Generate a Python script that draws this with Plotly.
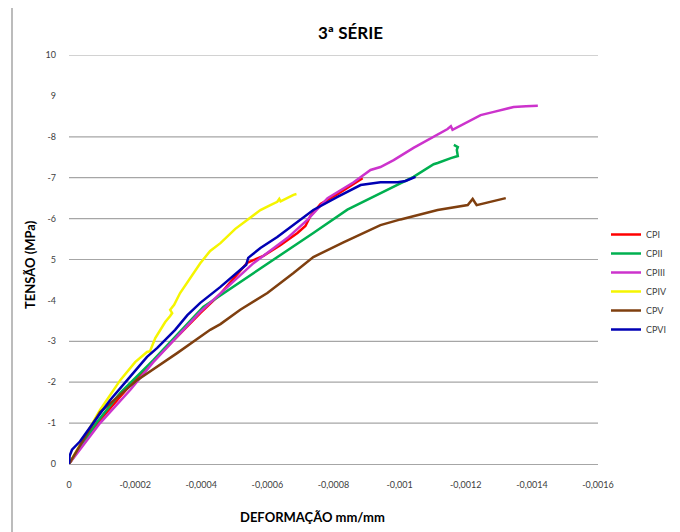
import plotly.graph_objects as go

# ---- data (strain in mm/mm, stress in MPa; compression negative) ----
series_names = ["CPI", "CPII", "CPIII", "CPIV", "CPV", "CPVI"]

cpi_strain = [0, -0.48e-4, -0.94e-4, -1.85e-4, -2.76e-4, -3.97e-4, -4.58e-4, -5.39e-4, -5.88e-4, -6.39e-4,
              -6.91e-4, -7.15e-4, -7.30e-4, -7.61e-4, -8.12e-4, -8.61e-4, -8.88e-4]
cpi_stress = [0, -0.59, -1.08, -1.93, -2.69, -3.69, -4.16, -4.92, -5.09, -5.35,
              -5.65, -5.82, -6.06, -6.36, -6.60, -6.85, -6.99]

cpii_strain = [0, -0.85e-4, -1.55e-4, -2.55e-4, -4.06e-4, -5.73e-4, -7.0e-4, -7.39e-4, -8.42e-4, -9.42e-4,
               -10.42e-4, -11.03e-4, -11.15e-4, -11.55e-4, -11.76e-4, -11.73e-4, -11.76e-4, -11.64e-4]
cpii_stress = [0, -1.03, -1.74, -2.54, -3.84, -4.74, -5.43, -5.65, -6.22, -6.62,
               -7.02, -7.33, -7.36, -7.48, -7.53, -7.68, -7.75, -7.80]

cpiii_strain = [0, -0.94e-4, -1.85e-4, -2.55e-4, -3.97e-4, -4.58e-4, -5.58e-4, -6.61e-4, -7.21e-4, -7.82e-4,
                -8.61e-4, -9.12e-4, -9.42e-4, -9.82e-4, -10.42e-4, -11.45e-4, -11.55e-4, -11.60e-4,
                -12.45e-4, -12.85e-4, -13.45e-4, -13.82e-4, -14.18e-4]
cpiii_stress = [0, -1.0, -1.81, -2.49, -3.72, -4.18, -4.91, -5.53, -5.97, -6.50,
                -6.89, -7.19, -7.26, -7.43, -7.73, -8.19, -8.26, -8.17,
                -8.53, -8.61, -8.73, -8.75, -8.76]

cpiv_strain = [0, -0.33e-4, -0.94e-4, -1.55e-4, -2.0e-4, -2.36e-4, -2.45e-4, -2.61e-4, -2.91e-4, -3.06e-4,
               -3.12e-4, -3.06e-4, -3.18e-4, -3.36e-4, -3.67e-4, -3.97e-4, -4.27e-4, -4.58e-4, -5.03e-4,
               -5.39e-4, -5.79e-4, -6.09e-4, -6.30e-4, -6.36e-4, -6.40e-4, -6.79e-4, -6.88e-4]
cpiv_stress = [0, -0.46, -1.32, -2.05, -2.49, -2.74, -2.76, -3.08, -3.47, -3.62,
               -3.69, -3.77, -3.89, -4.18, -4.55, -4.91, -5.21, -5.40, -5.75,
               -5.97, -6.21, -6.33, -6.41, -6.48, -6.42, -6.58, -6.60]

cpv_strain = [0, -0.94e-4, -2.06e-4, -3.27e-4, -4.27e-4, -4.58e-4, -5.18e-4, -6.0e-4, -6.79e-4, -7.39e-4,
              -8.30e-4, -9.42e-4, -10.03e-4, -10.42e-4, -11.15e-4, -12.06e-4, -12.21e-4,
              -12.33e-4, -13.21e-4]
cpv_stress = [0, -1.27, -2.05, -2.71, -3.28, -3.42, -3.77, -4.18, -4.67, -5.06,
              -5.42, -5.84, -5.98, -6.06, -6.21, -6.33, -6.48,
              -6.33, -6.50]

cpvi_strain = [0, -0.02e-4, -0.09e-4, -0.33e-4, -0.73e-4, -1.24e-4, -1.76e-4, -2.36e-4, -2.67e-4, -3.21e-4,
               -3.58e-4, -3.97e-4, -4.58e-4, -5.27e-4, -5.36e-4, -5.42e-4, -5.55e-4, -5.79e-4, -6.30e-4,
               -6.70e-4, -7.39e-4, -8.12e-4, -8.82e-4, -9.42e-4, -9.94e-4, -10.18e-4, -10.48e-4]
cpvi_stress = [0, -0.2, -0.35, -0.55, -1.0, -1.56, -2.05, -2.62, -2.84, -3.28,
               -3.64, -3.94, -4.33, -4.79, -4.87, -5.04, -5.13, -5.28, -5.55,
               -5.79, -6.21, -6.53, -6.82, -6.89, -6.89, -6.92, -7.02]

x_tickvals = [0, -0.0002, -0.0004, -0.0006, -0.0008, -0.001, -0.0012, -0.0014, -0.0016]
x_ticktext = ["0", "-0,0002", "-0,0004", "-0,0006", "-0,0008", "-0,001", "-0,0012", "-0,0014", "-0,0016"]
y_tickvals = [0, -1, -2, -3, -4, -5, -6, -7, -8, -9, -10]
y_ticktext = ["0", "-1", "-2", "-3", "-4", "5", "-6", "-7", "-8", "9", "10"]
grid_values = [-1, -2, -3, -5, -6, -7, -8, -10]

colors = ["#FF0000", "#00B050", "#CC33CC", "#F5F500", "#7F3F0F", "#0000B4"]
xs = [cpi_strain, cpii_strain, cpiii_strain, cpiv_strain, cpv_strain, cpvi_strain]
ys = [cpi_stress, cpii_stress, cpiii_stress, cpiv_stress, cpv_stress, cpvi_stress]

# page body has an 8px margin, so the figure is laid out 8px smaller and offset
OFF = 8
W, H = 680 - OFF, 532 - OFF
L, T = 69 - OFF, 55 - OFF
pw, ph = 529, 409
R, B = W - L - pw, H - T - ph

def px(x):  # page pixel -> paper x
    return (x - OFF - L) / pw

def py(y):  # page pixel -> paper y
    return (T + ph - (y - OFF)) / ph

fig = go.Figure()
for name, x, y, c in zip(series_names, xs, ys, colors):
    fig.add_trace(go.Scatter(x=x, y=y, mode="lines", name=name,
                             line=dict(color=c, width=2.5)))

FONT = "Lato, Open Sans, sans-serif"

shapes = []
for g in grid_values:
    shapes.append(dict(type="line", xref="paper", yref="y", x0=0, x1=1, y0=g, y1=g,
                       line=dict(color="#A6A6A6", width=1.2), layer="below"))
shapes.append(dict(type="line", xref="paper", yref="paper", x0=px(12), x1=px(12), y0=py(OFF), y1=py(540),
                   line=dict(color="#A6A6A6", width=1.5)))

fig.update_layout(
    width=W, height=H,
    margin=dict(l=L, r=R, t=T, b=B, autoexpand=False),
    paper_bgcolor="white", plot_bgcolor="white",
    font=dict(family=FONT, color="#404040", size=9),
    showlegend=True,
    legend=dict(x=px(606), y=py(220), xanchor="left", yanchor="top",
                font=dict(size=9, color="#404040"), itemwidth=30,
                bgcolor="rgba(0,0,0,0)", tracegroupgap=0),
    xaxis=dict(range=[0, -0.0016], tickvals=x_tickvals, ticktext=x_ticktext,
               showgrid=False, zeroline=False, showline=True, linecolor="#A6A6A6", linewidth=1.2,
               ticks="", ticklabelstandoff=12, tickfont=dict(size=9, color="#404040")),
    yaxis=dict(range=[0, -10], tickvals=y_tickvals, ticktext=y_ticktext,
               showgrid=False, zeroline=False, showline=False,
               ticks="", ticklabelstandoff=12, tickfont=dict(size=9, color="#404040")),
    shapes=shapes,
    annotations=[
        dict(text="<b>3ª SÉRIE</b>", xref="paper", yref="paper", x=px(350), y=py(32),
             xanchor="center", yanchor="middle",
             showarrow=False, font=dict(size=17, color="#000000", family=FONT)),
        dict(text="<b>DEFORMAÇÃO mm/mm</b>", xref="paper", yref="paper", x=px(312), y=py(517),
             xanchor="center", yanchor="middle",
             showarrow=False, font=dict(size=13, color="#000000", family=FONT)),
        dict(text="<b>TENSÃO (MPa)</b>", xref="paper", yref="paper", x=px(30), y=py(265),
             xanchor="center", yanchor="middle",
             showarrow=False, textangle=-90, font=dict(size=13, color="#000000", family=FONT)),
    ],
)

fig.write_html("out.html")
